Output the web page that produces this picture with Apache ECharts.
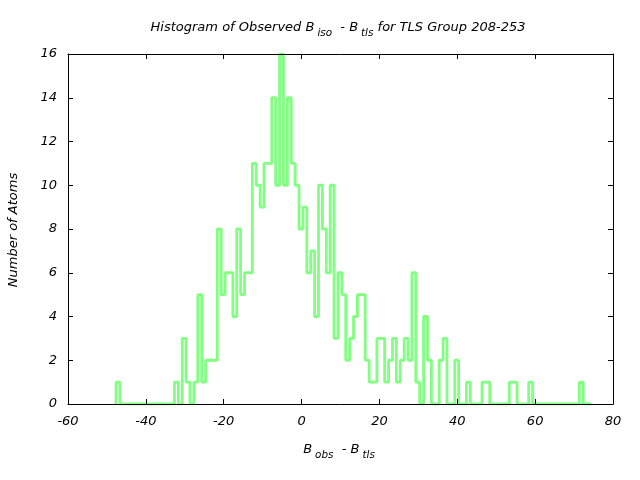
<!DOCTYPE html>
<html><head><meta charset="utf-8">
<script src="https://cdn.jsdelivr.net/npm/echarts@6/dist/echarts.min.js"></script>
<style>html,body{margin:0;padding:0;background:#fff}#c{width:640px;height:480px}</style>
</head><body><div id="c"></div>
<script>
// ---- data ----
const binStart = -47.65;   // left edge of first bin
const binWidth = 1;
const counts = [
  1,0,0,0,0,0,0,0,0,0,
  0,0,0,0,0,1,0,3,1,0,
  1,5,1,2,2,2,8,5,6,6,
  4,8,5,6,6,11,10,9,11,11,
  14,10,16,10,14,11,10,8,9,6,
  7,4,10,8,6,10,3,6,5,2,
  3,4,5,5,2,1,1,3,3,1,
  2,3,1,2,3,2,6,1,0,4,
  2,0,0,2,3,0,0,2,0,0,
  1,0,0,0,1,1,0,0,0,0,
  0,1,1,0,0,0,1,0,0,0,
  0,0,0,0,0,0,0,0,0,1,
  0,0
];
const xMin = -60, xMax = 80, xStep = 20;
const yMin = 0, yMax = 16, yStep = 2;
const titleSegs = [{t:'Histogram of Observed B'},{t:'iso',sub:1},{t:'  - B'},{t:'tls',sub:1},{t:' for TLS Group 208-253'}];
const xNameSegs = [{t:'B'},{t:'obs',sub:1},{t:'  - B'},{t:'tls',sub:1}];
const yNameSegs = [{t:'Number of Atoms'}];

// ---- build ----
const pts = [[binStart, 0]];
counts.forEach((c, i) => pts.push([binStart + i * binWidth, c]));
pts.push([binStart + counts.length * binWidth, counts[counts.length - 1]]);

const FONT = 'DejaVu Sans';
const MAIN = 13, SUB = 10.4, SHIFT = 4.8, SUBGAP = 3;
const ctx = document.createElement('canvas').getContext('2d');
function measure(t, size) { ctx.font = 'italic ' + size + 'px "' + FONT + '"'; return ctx.measureText(t).width; }
function richText(segs, cx, cy, rot) {
  let total = 0;
  const w = segs.map(s => { const v = measure(s.t, s.sub ? SUB : MAIN) + (s.sub ? SUBGAP : 0); total += v; return v; });
  let x = -total / 2;
  const children = [];
  segs.forEach((s, i) => {
    children.push({type:'text', x: x + (s.sub ? SUBGAP : 0), y: s.sub ? SHIFT : 0,
      style:{text: s.t, fontSize: s.sub ? SUB : MAIN, fontStyle:'italic', fontFamily: FONT,
             fill:'#000', align:'left', verticalAlign:'middle'}});
    x += w[i];
  });
  return {type:'group', x: cx, y: cy, rotation: rot || 0, children};
}

const lbl = {color:'#000', fontStyle:'italic', fontFamily: FONT, fontSize: 13};
function axis(extra) {
  return Object.assign({
    type:'value',
    axisLine:{show:true, onZero:false, lineStyle:{color:'#000', width:1}},
    axisTick:{show:true, inside:true, length:5, lineStyle:{color:'#000', width:1}},
    splitLine:{show:false},
    z: 5
  }, extra);
}

const chart = echarts.init(document.getElementById('c'), null, {renderer:'canvas'});
chart.setOption({
  animation:false,
  backgroundColor:'#fff',
  grid:{left:68, right:27, top:54, bottom:76, containLabel:false},
  xAxis:[
    axis({min:xMin, max:xMax, interval:xStep, position:'bottom', axisLabel:Object.assign({margin:11}, lbl)}),
    axis({min:xMin, max:xMax, interval:xStep, position:'top', axisLabel:{show:false}})
  ],
  yAxis:[
    axis({min:yMin, max:yMax, interval:yStep, position:'left', axisLabel:Object.assign({margin:11}, lbl)}),
    axis({min:yMin, max:yMax, interval:yStep, position:'right', axisLabel:{show:false}})
  ],
  series:[{
    type:'line', step:'end', data:pts, symbol:'none', showSymbol:false,
    xAxisIndex:0, yAxisIndex:0, z:2,
    lineStyle:{color:'#80ff80', width:2.8}
  }],
  graphic:[
    richText(titleSegs, 338, 28, 0),
    richText(xNameSegs, 339, 450, 0),
    richText(yNameSegs, 14, 230, Math.PI / 2)
  ]
});
</script>
</body></html>
